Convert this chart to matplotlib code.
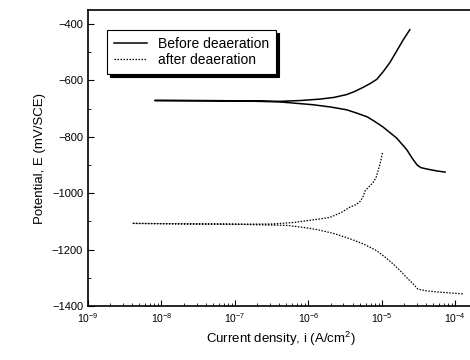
import numpy as np
import matplotlib
matplotlib.use("Agg")
import matplotlib.pyplot as plt
from matplotlib.ticker import LogLocator, MultipleLocator, NullFormatter

# Before deaeration: cathodic branch (high -> low current) then anodic branch
before_logi = [-4.14, -4.25, -4.39, -4.47, -4.52, -4.59, -4.66, -4.73, -4.80, -4.90, -4.99, -5.10,
               -5.20, -5.35, -5.48, -5.70, -5.94, -6.39, -7.0, -8.09,
               -7.0, -6.39, -6.10, -5.84, -5.65, -5.48, -5.37, -5.26, -5.16, -5.07, -4.98,
               -4.89, -4.80, -4.71, -4.66, -4.62]
before_E = [-925, -921, -914, -909, -900, -875, -846, -825, -804, -783, -764, -745,
            -729, -715, -704, -694, -686, -676, -672, -671,
            -672, -674, -671, -666, -660, -650, -639, -625, -611, -596, -568,
            -536, -496, -456, -436, -420]

# After deaeration
after_logi = [-3.90, -4.10, -4.25, -4.40, -4.51, -4.58, -4.66, -4.75, -4.85, -4.96, -5.07,
              -5.25, -5.44, -5.65, -5.88, -6.10, -6.3, -7.0, -8.40,
              -7.0, -6.5, -6.21, -5.95, -5.71, -5.55, -5.44, -5.35, -5.30, -5.26, -5.23, -5.17,
              -5.12, -5.08, -5.05, -5.02, -4.99]
after_E = [-1357, -1353, -1350, -1346, -1340, -1320, -1300, -1275, -1250, -1226, -1204,
           -1180, -1161, -1143, -1129, -1120, -1114, -1110, -1107,
           -1110, -1109, -1104, -1095, -1086, -1068, -1050, -1040, -1030, -1015, -992, -975,
           -962, -945, -918, -890, -854]

labels = ["Before deaeration", "after deaeration"]

plt.rcParams['font.family'] = ['Liberation Sans', 'DejaVu Sans']
plt.rcParams['mathtext.fontset'] = 'custom'
plt.rcParams['mathtext.rm'] = 'Liberation Sans'
plt.rcParams['mathtext.it'] = 'Liberation Sans:italic'

fig = plt.figure(figsize=(4.7, 3.6), dpi=100)
ax = fig.add_axes([88/470, 54/360, 385/470, 296/360])

ax.plot(10**np.array(before_logi), before_E, color='black', lw=1.1, label=labels[0])
ax.plot(10**np.array(after_logi), after_E, color='black', lw=0.9, ls=(0, (1.2, 1.2)), label=labels[1])

ax.set_xscale('log')
ax.set_xlim(1e-9, 10**-3.76)
ax.set_ylim(-1400, -350)
ax.yaxis.set_major_locator(MultipleLocator(200))
ax.yaxis.set_minor_locator(MultipleLocator(100))
ax.xaxis.set_major_locator(LogLocator(base=10, numticks=20))
ax.xaxis.set_minor_locator(LogLocator(base=10, subs=np.arange(2, 10), numticks=20))
ax.xaxis.set_minor_formatter(NullFormatter())
ax.tick_params(which='both', direction='in')
ax.tick_params(axis='y', labelsize=8)
ax.tick_params(axis='x', labelsize=7.5)
ax.tick_params(which='major', length=4)
ax.tick_params(which='minor', length=2)
for s in ax.spines.values():
    s.set_linewidth(1.2)

ax.set_xlabel("Current density, i (A/cm$^2$)", fontsize=9.5)
ax.set_ylabel("Potential, E (mV/SCE)", fontsize=9.5)

leg = ax.legend(loc='upper left', bbox_to_anchor=(0.049, 0.932), fontsize=10, frameon=True,
                fancybox=False, shadow={'color': 'black', 'alpha': 1.0}, handlelength=2.4,
                borderpad=0.5, labelspacing=0.15, borderaxespad=0, edgecolor='black',
                framealpha=1)
leg.get_frame().set_linewidth(0.8)

fig.savefig("out.png", dpi=100)
